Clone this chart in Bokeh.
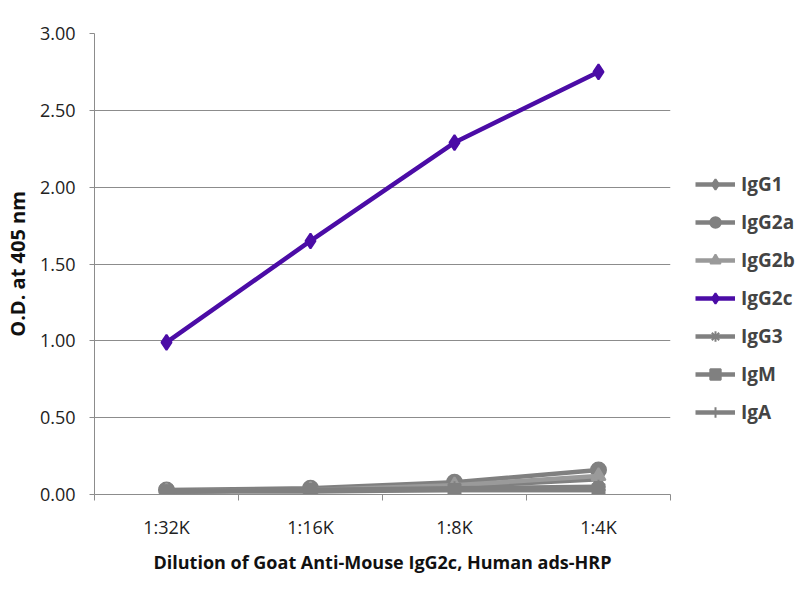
from bokeh.plotting import figure
from bokeh.models import Legend, LegendItem, FixedTicker, CustomJSTickFormatter
from bokeh.embed import file_html
from bokeh.resources import INLINE

dilutions = ["1:32K", "1:16K", "1:8K", "1:4K"]
igg1 = [0.02, 0.03, 0.05, 0.10]
igg2a = [0.03, 0.04, 0.08, 0.16]
igg2b = [0.02, 0.03, 0.06, 0.12]
igg2c = [0.99, 1.65, 2.29, 2.75]
igg3 = [0.02, 0.03, 0.04, 0.05]
igm = [0.02, 0.03, 0.03, 0.03]
iga = [0.02, 0.02, 0.03, 0.03]
y_ticks = [0.0, 0.5, 1.0, 1.5, 2.0, 2.5, 3.0]

GRAY = "#808080"
PURPLE = "#4B0CA6"
FONT = "Open Sans"

xs = [i + 0.5 for i in range(len(dilutions))]
bounds = list(range(len(dilutions) + 1))

p = figure(x_range=(0, len(dilutions)), y_range=(0, 3),
           frame_width=576, frame_height=461, min_border_left=92, min_border_top=33,
           min_border_bottom=60, min_border_right=10,
           output_backend="svg", toolbar_location=None)
p.outline_line_color = None
p.background_fill_color = "white"
p.xgrid.grid_line_color = None
p.ygrid.grid_line_color = "#8c8c8c"
p.ygrid.grid_line_width = 1
p.yaxis.ticker = y_ticks
p.yaxis.formatter = CustomJSTickFormatter(code="return tick.toFixed(2);")
p.xaxis.ticker = FixedTicker(ticks=xs, minor_ticks=bounds)
p.xaxis.major_label_overrides = {x: d for x, d in zip(xs, dilutions)}
for ax in (p.xaxis, p.yaxis):
    ax.axis_line_color = "#8c8c8c"
    ax.major_tick_line_color = "#8c8c8c"
    ax.major_label_text_font = FONT
    ax.major_label_text_font_size = "18px"
    ax.major_label_text_color = "#222222"
    ax.axis_label_text_font = FONT
    ax.axis_label_text_font_style = "bold"
    ax.axis_label_text_color = "#111111"
p.yaxis.minor_tick_line_color = None
p.xaxis.minor_tick_line_color = "#8c8c8c"
p.xaxis.minor_tick_out = 6
p.xaxis.minor_tick_in = 0
p.yaxis.major_tick_out = 5
p.yaxis.major_tick_in = 0
p.xaxis.major_tick_out = 0
p.xaxis.major_tick_in = 0
p.xaxis.major_label_standoff = 14
p.yaxis.major_label_standoff = 14
p.yaxis.axis_label = "O.D. at 405 nm"
p.yaxis.axis_label_text_font_size = "20px"
p.yaxis.axis_label_standoff = 6
p.xaxis.axis_label = "Dilution of Goat Anti-Mouse IgG2c, Human ads-HRP"
p.xaxis.axis_label_text_font_size = "18px"
p.xaxis.axis_label_standoff = 8

series = [
    ("IgG1", igg1, GRAY, "diamond", 15),
    ("IgG2a", igg2a, GRAY, "circle", 15),
    ("IgG2b", igg2b, "#9a9a9a", "triangle", 14),
    ("IgG3", igg3, GRAY, "asterisk", 14),
    ("IgM", igm, GRAY, "square", 12),
    ("IgA", iga, GRAY, "cross", 14),
    ("IgG2c", igg2c, PURPLE, "diamond", 15),
]
items = {}
for name, vals, col, mk, sz in series:
    l = p.line(xs, vals, line_color=col, line_width=4.5)
    m = p.scatter(xs, vals, marker=mk, size=sz, fill_color=col, line_color=col, line_width=2)
    items[name] = [l, m]

order = ["IgG1", "IgG2a", "IgG2b", "IgG2c", "IgG3", "IgM", "IgA"]
legend = Legend(items=[LegendItem(label=n, renderers=items[n]) for n in order],
                location=(25, 69), orientation="vertical")
legend.border_line_color = None
legend.background_fill_alpha = 0
legend.label_text_font = FONT
legend.label_text_font_style = "bold"
legend.label_text_font_size = "19px"
legend.glyph_width = 40
legend.glyph_height = 26
legend.label_height = 26
legend.spacing = 12
legend.label_standoff = 6
legend.padding = 0
legend.margin = 24
p.add_layout(legend, "right")

open("out.html", "w").write(file_html(p, INLINE))
